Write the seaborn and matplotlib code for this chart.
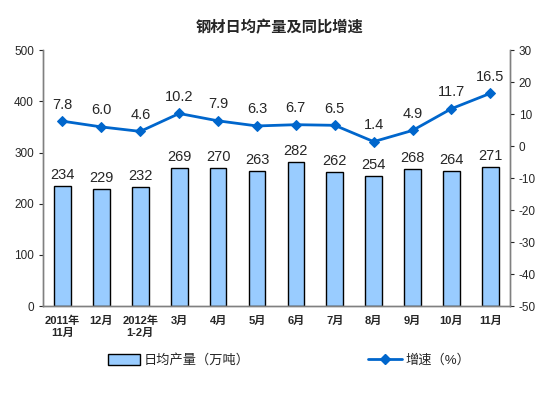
import numpy as np
import pandas as pd
import seaborn as sns
import matplotlib.pyplot as plt
from matplotlib.patches import Patch
from matplotlib.lines import Line2D

months = ['2011年\n11月', '12月', '2012年\n1-2月', '3月', '4月', '5月',
          '6月', '7月', '8月', '9月', '10月', '11月']
output = [234, 229, 232, 269, 270, 263, 282, 262, 254, 268, 264, 271]
growth = [7.8, 6.0, 4.6, 10.2, 7.9, 6.3, 6.7, 6.5, 1.4, 4.9, 11.7, 16.5]

sns.set_style('white')
plt.rcParams['font.family'] = ['Liberation Sans', 'Noto Sans CJK SC']
plt.rcParams['axes.unicode_minus'] = False

df = pd.DataFrame({'month': months, 'output': output, 'growth': growth})
pos = np.arange(len(months))

fig = plt.figure(figsize=(5.59, 3.98), dpi=100)
ax = fig.add_axes([0.077, 0.231, 0.835, 0.643])

sns.barplot(x='month', y='output', data=df, ax=ax, color='#99CCFF',
            edgecolor='black', linewidth=1, width=0.43, saturation=1)
ax.set_ylim(0, 500)
ax.set_xlim(-0.5, len(months) - 0.5)
ax.set_yticks(range(0, 501, 100))
ax.set_xlabel('')
ax.set_ylabel('')
for i, v in enumerate(output):
    ax.text(i, v + 8, str(v), ha='center', va='bottom', fontsize=10.5)

ax2 = ax.twinx()
sns.lineplot(x=pos, y=growth, ax=ax2, color='#0066CC', marker='D',
             markersize=5, markeredgecolor='#0066CC', linewidth=2)
ax2.set_ylim(-50, 30)
ax2.set_yticks(range(-50, 31, 10))
ax2.set_xlim(-0.5, len(months) - 0.5)
for i, v in enumerate(growth):
    ax2.text(i, v + 3, f'{v:.1f}', ha='center', va='bottom', fontsize=10.5)

ax.set_xticks(pos)
ax.set_xticklabels(months, fontsize=8, fontweight='bold')
ax.set_xticks(np.arange(-0.5, len(months), 1), minor=True)
ax.tick_params(axis='x', which='major', length=0, pad=7)
ax.tick_params(axis='x', which='minor', length=3, direction='in', color='#808080')
ax.tick_params(axis='y', length=3, direction='out', labelsize=8.5, left=True)
ax2.tick_params(axis='y', length=3, direction='out', labelsize=8.5, right=True)

for a in (ax, ax2):
    a.spines['top'].set_visible(False)
    for s in ('left', 'right', 'bottom'):
        a.spines[s].set_color('#808080')
        a.spines[s].set_linewidth(1)

fig.text(0.5, 0.93, '钢材日均产量及同比增速', ha='center', va='center',
         fontsize=11, fontweight='bold')

h1 = Patch(facecolor='#99CCFF', edgecolor='black', label='日均产量（万吨）')
h2 = Line2D([], [], color='#0066CC', marker='D', markersize=5, linewidth=2,
            label='增速（%）')
fig.legend(handles=[h1], loc='center', bbox_to_anchor=(0.32, 0.095),
           frameon=False, fontsize=9.5, handlelength=2.4, handleheight=0.9,
           handletextpad=0.3)
fig.legend(handles=[h2], loc='center', bbox_to_anchor=(0.75, 0.095),
           frameon=False, fontsize=9.5, handlelength=2.6, handletextpad=0.3)

fig.savefig('out.png', dpi=100)
